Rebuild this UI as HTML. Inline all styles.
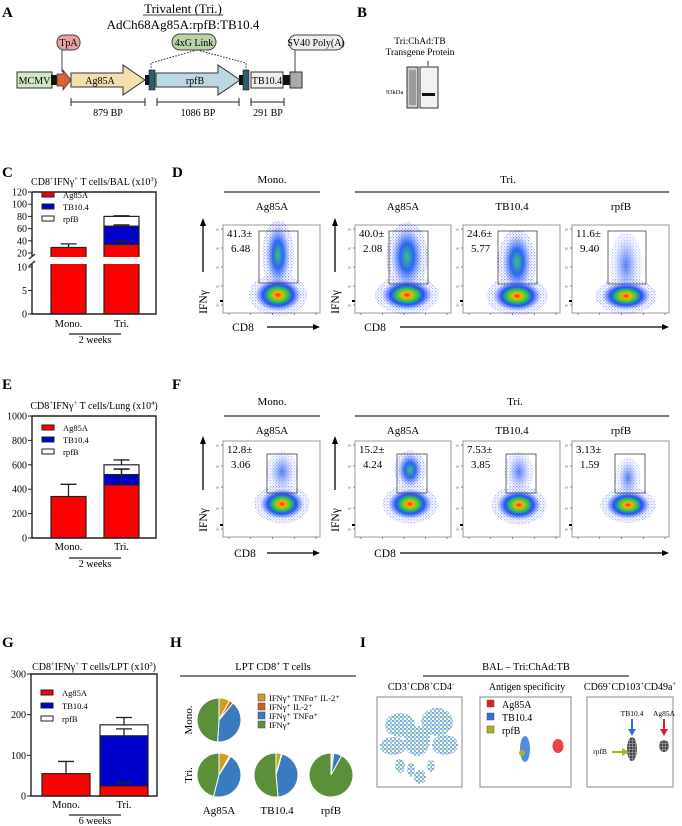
<!DOCTYPE html>
<html><head><meta charset="utf-8"><style>
html,body{margin:0;padding:0;background:#fff}
svg{display:block;font-family:"Liberation Serif",serif}
</style></head><body>
<svg id="fig" width="682" height="826" viewBox="0 0 682 826" xmlns="http://www.w3.org/2000/svg">
<defs>
<radialGradient id="gneg"><stop offset="0" stop-color="#ff2000"/><stop offset="0.18" stop-color="#ffb000"/><stop offset="0.4" stop-color="#30d040"/><stop offset="0.65" stop-color="#2050ff"/><stop offset="1" stop-color="#4060ff" stop-opacity="0"/></radialGradient>
<radialGradient id="gpos"><stop offset="0" stop-color="#30c080"/><stop offset="0.45" stop-color="#2060f0"/><stop offset="1" stop-color="#5070ff" stop-opacity="0"/></radialGradient>
<radialGradient id="gpos2"><stop offset="0" stop-color="#3060f0"/><stop offset="1" stop-color="#6080ff" stop-opacity="0"/></radialGradient>
<pattern id="speck" width="3" height="3" patternUnits="userSpaceOnUse"><circle cx="0.8" cy="0.8" r="0.55" fill="#2040ff"/><circle cx="2.3" cy="2.1" r="0.45" fill="#4060ff"/></pattern>
<pattern id="tsne" width="4" height="4" patternUnits="userSpaceOnUse"><rect width="4" height="4" fill="#fff"/><circle cx="1" cy="1" r="0.9" fill="#2a6fd0"/><circle cx="3" cy="3" r="0.9" fill="#36a070"/><circle cx="3" cy="1" r="0.6" fill="#5090e0"/></pattern>
<pattern id="blk" width="3" height="3" patternUnits="userSpaceOnUse"><rect width="3" height="3" fill="#888"/><circle cx="1" cy="1" r="0.9" fill="#111"/></pattern>
</defs>

<g>
<text x="2" y="17" font-size="15" font-weight="bold">A</text>
<text x="183" y="13" font-size="13" text-anchor="middle">Trivalent (Tri.)</text>
<line x1="143" y1="15" x2="223" y2="15" stroke="#000" stroke-width="0.8"/>
<text x="183" y="29" font-size="13" text-anchor="middle">AdCh68Ag85A:rpfB:TB10.4</text>
<rect x="17" y="72" width="35" height="16" fill="#cfe7c2" stroke="#333"/>
<text x="34.5" y="84" font-size="10" text-anchor="middle">MCMV</text>
<rect x="51" y="75" width="7" height="10" fill="#111"/>
<polygon points="57,74 63,74 63,70 71,80 63,90 63,86 57,86" fill="#e06030" stroke="#333" stroke-width="0.7"/>
<polygon points="71,73 123,73 123,65 145,80 123,95 123,87 71,87" fill="#f3deb0" stroke="#333"/>
<text x="100" y="84" font-size="10" text-anchor="middle">Ag85A</text>
<rect x="145" y="75" width="5" height="10" fill="#111"/>
<rect x="149" y="70" width="6" height="20" fill="#2e5a6e" stroke="#222" stroke-width="0.6"/>
<polygon points="156,73 218,73 218,65 240,80 218,95 218,87 156,87" fill="#bcd8e2" stroke="#333"/>
<text x="195" y="84" font-size="10" text-anchor="middle">rpfB</text>
<rect x="239" y="75" width="5" height="10" fill="#111"/>
<rect x="243" y="70" width="6" height="20" fill="#2e5a6e" stroke="#222" stroke-width="0.6"/>
<rect x="251" y="72" width="32" height="16" fill="#eee" stroke="#333"/>
<text x="267" y="84" font-size="10" text-anchor="middle">TB10.4</text>
<rect x="283" y="75" width="7" height="10" fill="#111"/>
<rect x="290" y="72" width="12" height="16" fill="#aaa" stroke="#333"/>
<line x1="62" y1="50" x2="62" y2="72" stroke="#444"/>
<rect x="57" y="35" width="23" height="15" rx="7" fill="#e8a0a0" stroke="#444"/>
<text x="68.5" y="46" font-size="10" text-anchor="middle">TpA</text>
<path d="M197,50 L151,63 L151,70 M197,50 L246,63 L246,70" fill="none" stroke="#222" stroke-dasharray="1.5,1.5"/>
<rect x="172" y="34" width="44" height="16" rx="8" fill="#b9d3a8" stroke="#444"/>
<text x="194" y="46" font-size="10" text-anchor="middle">4xG Link</text>
<line x1="295" y1="50" x2="295" y2="72" stroke="#444"/>
<rect x="289" y="35" width="54" height="15" rx="7" fill="#eee" stroke="#444"/>
<text x="316" y="46" font-size="10" text-anchor="middle">SV40 Poly(A)</text>
<g stroke="#222">
<path d="M71,102 H145 M71,98 V106 M145,98 V106 M157,102 H239 M157,98 V106 M239,98 V106 M251,102 H284 M251,98 V106 M284,98 V106"/>
</g>
<text x="108" y="116" font-size="10" text-anchor="middle">879 BP</text>
<text x="198" y="116" font-size="10" text-anchor="middle">1086 BP</text>
<text x="268" y="116" font-size="10" text-anchor="middle">291 BP</text>
</g>

<g>
<text x="357" y="17" font-size="15" font-weight="bold">B</text>
<text x="420" y="44" font-size="9.5" text-anchor="middle">Tri:ChAd:TB</text>
<text x="420" y="55" font-size="9.5" text-anchor="middle">Transgene Protein</text>
<line x1="428" y1="61" x2="428" y2="66" stroke="#333"/>
<rect x="407" y="67" width="11" height="41" fill="#ccc" stroke="#333"/>
<rect x="409" y="70" width="7" height="35" fill="#888" opacity="0.7"/>
<rect x="420" y="67" width="18" height="41" fill="#f2f2f2" stroke="#333"/>
<rect x="422" y="93" width="13" height="3" fill="#111"/>
<text x="386" y="94" font-size="6.5">93kDa</text>
</g>

<g id="charts"></g>
<g id="flows"></g>

<g font-size="11">
<text x="172" y="177" font-size="15" font-weight="bold">D</text>
<text x="272" y="183" text-anchor="middle">Mono.</text>
<line x1="224" y1="192" x2="320" y2="192" stroke="#333" stroke-width="1.2"/>
<text x="508" y="183" text-anchor="middle">Tri.</text>
<line x1="355" y1="192" x2="669" y2="192" stroke="#333" stroke-width="1.2"/>
<text x="272" y="210" text-anchor="middle">Ag85A</text>
<text x="403" y="210" text-anchor="middle">Ag85A</text>
<text x="512" y="210" text-anchor="middle">TB10.4</text>
<text x="621" y="210" text-anchor="middle">rpfB</text>
<text x="172" y="389" font-size="15" font-weight="bold">F</text>
<text x="272" y="405" text-anchor="middle">Mono.</text>
<line x1="224" y1="416" x2="320" y2="416" stroke="#333" stroke-width="1.2"/>
<text x="515" y="405" text-anchor="middle">Tri.</text>
<line x1="355" y1="416" x2="669" y2="416" stroke="#333" stroke-width="1.2"/>
<text x="272" y="434" text-anchor="middle">Ag85A</text>
<text x="403" y="434" text-anchor="middle">Ag85A</text>
<text x="512" y="434" text-anchor="middle">TB10.4</text>
<text x="621" y="434" text-anchor="middle">rpfB</text>
</g>

<g>
<text x="170" y="647" font-size="15" font-weight="bold">H</text>
<text x="273" y="670" font-size="10.5" text-anchor="middle">LPT CD8<tspan font-size="7" dy="-4">+</tspan><tspan dy="4"> T cells</tspan></text>
<line x1="180" y1="676" x2="356" y2="676" stroke="#333" stroke-width="1.2"/>
<text transform="translate(192,720) rotate(-90)" font-size="11" text-anchor="middle">Mono.</text>
<text transform="translate(192,775) rotate(-90)" font-size="11" text-anchor="middle">Tri.</text>
<text x="219" y="814" font-size="11" text-anchor="middle">Ag85A</text>
<text x="277" y="814" font-size="11" text-anchor="middle">TB10.4</text>
<text x="331" y="814" font-size="11" text-anchor="middle">rpfB</text>
</g>
<g id="pies"></g>

<g>
<text x="360" y="647" font-size="15" font-weight="bold">I</text>
<text x="526" y="670" font-size="10.5" text-anchor="middle">BAL – Tri:ChAd:TB</text>
<line x1="423" y1="676" x2="629" y2="676" stroke="#333" stroke-width="1.2"/>
<text x="421" y="690" font-size="10" text-anchor="middle">CD3<tspan font-size="6.5" dy="-4">+</tspan><tspan dy="4">CD8</tspan><tspan font-size="6.5" dy="-4">+</tspan><tspan dy="4">CD4</tspan><tspan font-size="6.5" dy="-4">-</tspan></text>
<text x="527" y="690" font-size="10" text-anchor="middle">Antigen specificity</text>
<text x="630" y="690" font-size="10" text-anchor="middle">CD69<tspan font-size="6.5" dy="-4">+</tspan><tspan dy="4">CD103</tspan><tspan font-size="6.5" dy="-4">+</tspan><tspan dy="4">CD49a</tspan><tspan font-size="6.5" dy="-4">+</tspan></text>
<rect x="377" y="697" width="85" height="90" fill="#fff" stroke="#888"/>
<g fill="url(#tsne)">
<ellipse cx="400" cy="725" rx="15" ry="12"/><ellipse cx="437" cy="722" rx="16" ry="14"/>
<ellipse cx="393" cy="746" rx="13" ry="9"/><ellipse cx="417" cy="741" rx="13" ry="15"/>
<ellipse cx="445" cy="745" rx="13" ry="10"/><ellipse cx="400" cy="766" rx="5" ry="7"/>
<ellipse cx="411" cy="770" rx="4" ry="7"/><ellipse cx="420" cy="777" rx="6" ry="7"/><ellipse cx="431" cy="766" rx="4" ry="6"/>
</g>
<rect x="480" y="697" width="91" height="90" fill="none" stroke="#888"/>
<rect x="487" y="700" width="7" height="7" fill="#e02020" stroke="#555" stroke-width="0.5"/><text x="502" y="708" font-size="10">Ag85A</text>
<rect x="487" y="713" width="7" height="7" fill="#2a70d8" stroke="#555" stroke-width="0.5"/><text x="502" y="721" font-size="10">TB10.4</text>
<rect x="487" y="726" width="7" height="7" fill="#b0b020" stroke="#555" stroke-width="0.5"/><text x="502" y="734" font-size="10">rpfB</text>
<ellipse cx="525" cy="749" rx="5" ry="13" fill="#3c80e0" opacity="0.9"/>
<ellipse cx="522" cy="753" rx="3" ry="3" fill="#b0b020"/>
<ellipse cx="558" cy="746" rx="5.5" ry="7" fill="#e83030" opacity="0.9"/>
<rect x="587" y="697" width="86" height="90" fill="none" stroke="#888"/>
<ellipse cx="632" cy="749" rx="5" ry="12" fill="url(#blk)"/>
<ellipse cx="664" cy="746" rx="5" ry="6" fill="url(#blk)"/>
<text x="632" y="716" font-size="7.5" text-anchor="middle">TB10.4</text>
<text x="664" y="716" font-size="7.5" text-anchor="middle">Ag85A</text>
<path d="M632,719 V731" stroke="#2a70d8" stroke-width="2"/><polygon points="628,729 636,729 632,736" fill="#2a70d8"/>
<path d="M664,719 V731" stroke="#e02020" stroke-width="2"/><polygon points="660,729 668,729 664,736" fill="#e02020"/>
<text x="600" y="754" font-size="7.5" text-anchor="middle">rpfB</text>
<path d="M612,752 H623" stroke="#b0b020" stroke-width="2"/><polygon points="622,748 622,756 629,752" fill="#b0b020"/>
</g>
</svg>
<script>
var NS='http://www.w3.org/2000/svg';
function mk(tag,attrs,parent){var e=document.createElementNS(NS,tag);for(var k in attrs)e.setAttribute(k,attrs[k]);parent.appendChild(e);return e;}

var cCategories=['Mono.','Tri.'];
var cAg85A=[29,34];
var cTB104=[0,30];
var cRpfB=[0,16];
var cErrAg85A=[6,6];
var cErrTB104=[0,2];
var cErrRpfB=[0,1];
var cTicksTop=[20,40,60,80,100,120];
var cTicksBottom=[0,5,10];
var eCategories=['Mono.','Tri.'];
var eAg85A=[340,435];
var eTB104=[0,85];
var eRpfB=[0,80];
var eErrAg85A=[100,130];
var eErrTB104=[0,45];
var eErrRpfB=[0,40];
var eTicks=[0,200,400,600,800,1000];
var gCategories=['Mono.','Tri.'];
var gAg85A=[55,25];
var gTB104=[0,123];
var gRpfB=[0,27];
var gErrAg85A=[30,8];
var gErrTB104=[0,17];
var gErrRpfB=[0,18];
var gTicks=[0,100,200,300];
var pieSeries=['IFNγ⁺ TNFα⁺ IL-2⁺','IFNγ⁺ IL-2⁺','IFNγ⁺ TNFα⁺','IFNγ⁺'];
var pieMono=[8,3,40,49];
var pieTriAg85A=[8,1,45,46];
var pieTriTB104=[4,0.5,44,51.5];
var pieTriRpfB=[1,1,6,92];

var charts=document.getElementById('charts');

function barChart(o){
  var g=mk('g',{},charts);
  
  
  mk('text',{x:2,y:o.letterY,'font-size':15,'font-weight':'bold'},g).textContent=o.letter;
  var t=mk('text',{x:94,y:o.titleY,'font-size':10,'text-anchor':'middle'},g);
  
  
  t.innerHTML='CD8<tspan font-size="6.5" dy="-4">+</tspan><tspan dy="4">IFNγ</tspan><tspan font-size="6.5" dy="-4">+</tspan><tspan dy="4"> T cells/'+o.tissue+' (x10</tspan><tspan font-size="6.5" dy="-4">'+o.exp+'</tspan><tspan dy="4">)</tspan>';
  var y=o.y;
  var stacks=[[o.ag,'#ff0000',o.eAg],[o.tb,'#0000cc',o.eTb],[o.rp,'#ffffff',o.eRp]];
  o.cats.forEach(function(c,i){
    var base=0;
    stacks.forEach(function(s){
      var v=s[0][i]; if(v<=0)return;
      var r=mk('rect',{x:o.bx[i],y:y(base+v),width:o.bw,height:y(base)-y(base+v),fill:s[1],stroke:'#222','stroke-width':1.2},g);
      
      
      base+=v;
    });
    base=0;
    stacks.forEach(function(s){
      var v=s[0][i]; if(v<=0)return;
      base+=v;
      var cx=o.bx[i]+o.bw/2, e=s[2][i];
      var eb=mk('path',{d:'M'+cx+','+y(base)+' V'+y(base+e)+' M'+(cx-8)+','+y(base+e)+' H'+(cx+8),stroke:'#222','stroke-width':1.3,fill:'none'},g);
      
      
    });
    var lb=mk('text',{x:o.bx[i]+o.bw/2,y:o.labelY,'font-size':10.5,'text-anchor':'middle'},g);
    
    
    lb.textContent=c;
  });
  if(o.gap){mk('rect',{x:o.x0+1,y:o.gap[0],width:o.x1-o.x0-2,height:o.gap[1]-o.gap[0],fill:'#fff'},g);}
  var box=mk('path',{d:'M'+o.x0+','+o.y0+' H'+o.x1+' V'+o.y1+' H'+o.x0+(o.gap?' V'+o.gap[1]+' M'+o.x0+','+o.gap[0]+' V'+o.y0:' Z'),fill:'none',stroke:'#222','stroke-width':1.4},g);
  
  
  if(o.gap){mk('path',{d:'M'+(o.x0-3)+','+(o.gap[0]+2)+' l6,-5 M'+(o.x0-3)+','+(o.gap[1]+2)+' l6,-5',stroke:'#222','stroke-width':1.2},g);}
  o.ticks.forEach(function(v){
    mk('line',{x1:o.x0-4,x2:o.x0,y1:y(v),y2:y(v),stroke:'#222'},g);
    var tl=mk('text',{x:o.x0-5,y:y(v)+3.5,'font-size':10,'text-anchor':'end'},g);
    
    
    tl.textContent=v;
  });
  var leg=[['Ag85A','#ff0000'],['TB10.4','#0000cc'],['rpfB','#ffffff']];
  leg.forEach(function(l,k){
    var ly=o.legY+k*o.legStep;
    var lr=mk('rect',{x:o.x0+10,y:ly-3,width:12,height:5,fill:l[1],stroke:'#222'},g);
    
    
    mk('text',{x:o.x0+31,y:ly+3,'font-size':8.5},g).textContent=l[0];
  });
  mk('line',{x1:69,x2:121,y1:o.wkY,y2:o.wkY,stroke:'#222','stroke-width':1.2},g);
  mk('text',{x:95,y:o.wkY+9,'font-size':10,'text-anchor':'middle'},g).textContent=o.weeks;
}

function yC(v){ if(v<=10) return 314-v*(314-267)/10; return 253-(v-20)*(253-192)/100; }
barChart({name:'panel-c-bal-chart',letter:'C',letterY:177,titleY:185,tissue:'BAL',exp:'3',y:yC,cats:cCategories,ag:cAg85A,tb:cTB104,rp:cRpfB,eAg:cErrAg85A,eTb:cErrTB104,eRp:cErrRpfB,
 bx:[51,104],bw:35,x0:32,x1:156,y0:192,y1:314,gap:[257,264],ticks:cTicksTop.concat(cTicksBottom),legY:195,legStep:12,labelY:327,wkY:334,weeks:'2 weeks'});
function yE(v){ return 538-v*(538-416)/1000; }
barChart({name:'panel-e-lung-chart',letter:'E',letterY:389,titleY:409,tissue:'Lung',exp:'4',y:yE,cats:eCategories,ag:eAg85A,tb:eTB104,rp:eRpfB,eAg:eErrAg85A,eTb:eErrTB104,eRp:eErrRpfB,
 bx:[51,104],bw:35,x0:32,x1:156,y0:416,y1:538,ticks:eTicks,legY:428,legStep:12,labelY:550,wkY:558,weeks:'2 weeks'});
function yG(v){ return 796-v*(796-674)/300; }
barChart({name:'panel-g-lpt-chart',letter:'G',letterY:647,titleY:670,tissue:'LPT',exp:'3',y:yG,cats:gCategories,ag:gAg85A,tb:gTB104,rp:gRpfB,eAg:gErrAg85A,eTb:gErrTB104,eRp:gErrRpfB,
 bx:[42,100],bw:48,x0:31,x1:157,y0:674,y1:796,ticks:gTicks,legY:693,legStep:13,labelY:808,wkY:815,weeks:'6 weeks'});

var pieColors=['#c9a020','#d0601c','#3a7abf','#5b8f3a'];
var pies=document.getElementById('pies');
function pie(vals,cx,cy,r,name){
  var g=mk('g',{},pies);
  
  
  var tot=vals.reduce(function(a,b){return a+b;},0),a0=-Math.PI/2;
  vals.forEach(function(v,i){
    if(v<=0)return;
    var a1=a0+v/tot*2*Math.PI;
    var x0=cx+r*Math.cos(a0),y0=cy+r*Math.sin(a0),x1=cx+r*Math.cos(a1),y1=cy+r*Math.sin(a1);
    var p=mk('path',{d:'M'+cx+','+cy+' L'+x0+','+y0+' A'+r+','+r+' 0 '+((a1-a0)>Math.PI?1:0)+' 1 '+x1+','+y1+' Z',fill:pieColors[i],stroke:'#fff','stroke-width':1},g);
    
    
    a0=a1;
  });
}
pie(pieMono,219,720,22,'pie-mono-ag85a');
pie(pieTriAg85A,219,775,22,'pie-tri-ag85a');
pie(pieTriTB104,276,775,22,'pie-tri-tb104');
pie(pieTriRpfB,331,775,22,'pie-tri-rpfb');
pieSeries.forEach(function(s,i){
  var ly=700+i*9;
  var sw=mk('rect',{x:258,y:ly-6,width:7,height:7,fill:pieColors[i],stroke:'#444','stroke-width':0.5},pies);
  
  
  var tx=mk('text',{x:269,y:ly+1,'font-size':8.5},pies);
  
  
  tx.textContent=s;
});

var flows=document.getElementById('flows');
function flow(x,y,w,h,gate,n1,n2,pos,neg,posStrength,name){
  var g=mk('g',{},flows);
  
  
  mk('rect',{x:x,y:y,width:w,height:h,fill:'#fff',stroke:'#999'},g);
  mk('ellipse',{cx:pos[0],cy:pos[1],rx:pos[2]*1.6,ry:pos[3]*1.15,fill:'url(#speck)',opacity:posStrength>1?0.9:0.6},g);
  mk('ellipse',{cx:neg[0],cy:neg[1],rx:neg[2]*1.45,ry:neg[3]*1.5,fill:'url(#speck)',opacity:0.8},g);
  mk('ellipse',{cx:pos[0],cy:pos[1],rx:pos[2]*1.2,ry:pos[3],fill:posStrength>1?'url(#gpos)':'url(#gpos2)',opacity:posStrength>1?0.95:0.8},g);
  mk('ellipse',{cx:neg[0],cy:neg[1],rx:neg[2]*1.15,ry:neg[3]*1.15,fill:'url(#gneg)'},g);
  var gr=mk('rect',{x:gate[0],y:gate[1],width:gate[2]-gate[0],height:gate[3]-gate[1],fill:'none',stroke:'#444','stroke-width':0.8},g);
  
  
  var t1=mk('text',{x:x+4,y:y+12,'font-size':11},g); t1.textContent=n1;
  
  
  var t2=mk('text',{x:x+8,y:y+27,'font-size':11},g); t2.textContent=n2;
  for(var k=0;k<5;k++){var ty=y+4+k*(h-12)/4;mk('line',{x1:x-2,x2:x,y1:ty,y2:ty,stroke:'#444','stroke-width':0.6},g);mk('text',{x:x-4,y:ty+1.5,'font-size':3.5,'text-anchor':'end',fill:'#444'},g).textContent='10';}
  for(var k=0;k<5;k++){var tx=x+6+k*(w-10)/4;mk('line',{x1:tx,x2:tx,y1:y+h,y2:y+h+2,stroke:'#444','stroke-width':0.6},g);}
  mk('path',{d:'M'+(x-3)+','+(y+h-12)+' h3',stroke:'#000','stroke-width':2},g);
}
flow(223,225,97,88,[259,231,298,283],'41.3±','6.48',[278,255,10,30],[278,295,20,14],2,'flow-d-mono-ag85a');
flow(355,225,96,88,[389,231,428,284],'40.0±','2.08',[407,257,13,30],[407,295,22,13],2,'flow-d-tri-ag85a');
flow(463,225,97,88,[498,231,537,284],'24.6±','5.77',[517,262,12,28],[517,296,21,13],2,'flow-d-tri-tb104');
flow(572,225,97,88,[608,231,646,284],'11.6±','9.40',[626,265,10,28],[626,296,21,12],1,'flow-d-tri-rpfb');
flow(223,441,97,96,[267,454,297,493],'12.8±','3.06',[282,472,10,18],[282,504,19,13],1,'flow-f-mono-ag85a');
flow(355,441,96,96,[397,454,427,493],'15.2±','4.24',[410,470,10,17],[410,504,19,13],2,'flow-f-tri-ag85a');
flow(463,441,97,96,[506,454,536,493],'7.53±','3.85',[519,472,9,18],[519,505,19,13],1,'flow-f-tri-tb104');
flow(572,441,97,96,[615,454,645,493],'3.13±','1.59',[628,478,8,18],[628,505,19,12],1,'flow-f-tri-rpfb');

function axisLabels(ix,iy,cx,cy,ax0,ax1){
  var g=mk('g',{},flows);
  
  
  mk('text',{transform:'translate('+(ix+4)+','+iy+') rotate(-90)','font-size':11.5,'text-anchor':'middle'},g).textContent='IFNγ';
  mk('line',{x1:ix,x2:ix,y1:iy-30,y2:iy-78,stroke:'#000','stroke-width':1.3},g);
  mk('polygon',{points:(ix-3)+','+(iy-76)+' '+(ix+3)+','+(iy-76)+' '+ix+','+(iy-84)},g);
  mk('text',{x:cx,y:cy,'font-size':11.5,'text-anchor':'middle'},g).textContent='CD8';
  mk('line',{x1:ax0,x2:ax1-6,y1:cy-4,y2:cy-4,stroke:'#000','stroke-width':1.3},g);
  mk('polygon',{points:(ax1-7)+','+(cy-7)+' '+(ax1-7)+','+(cy-1)+' '+ax1+','+(cy-4)},g);
}
axisLabels(203,302,243,331,267,320);
axisLabels(335,302,375,331,400,669);
axisLabels(203,520,245,557,267,320);
axisLabels(335,520,385,557,400,669);
</script>
</body></html>
